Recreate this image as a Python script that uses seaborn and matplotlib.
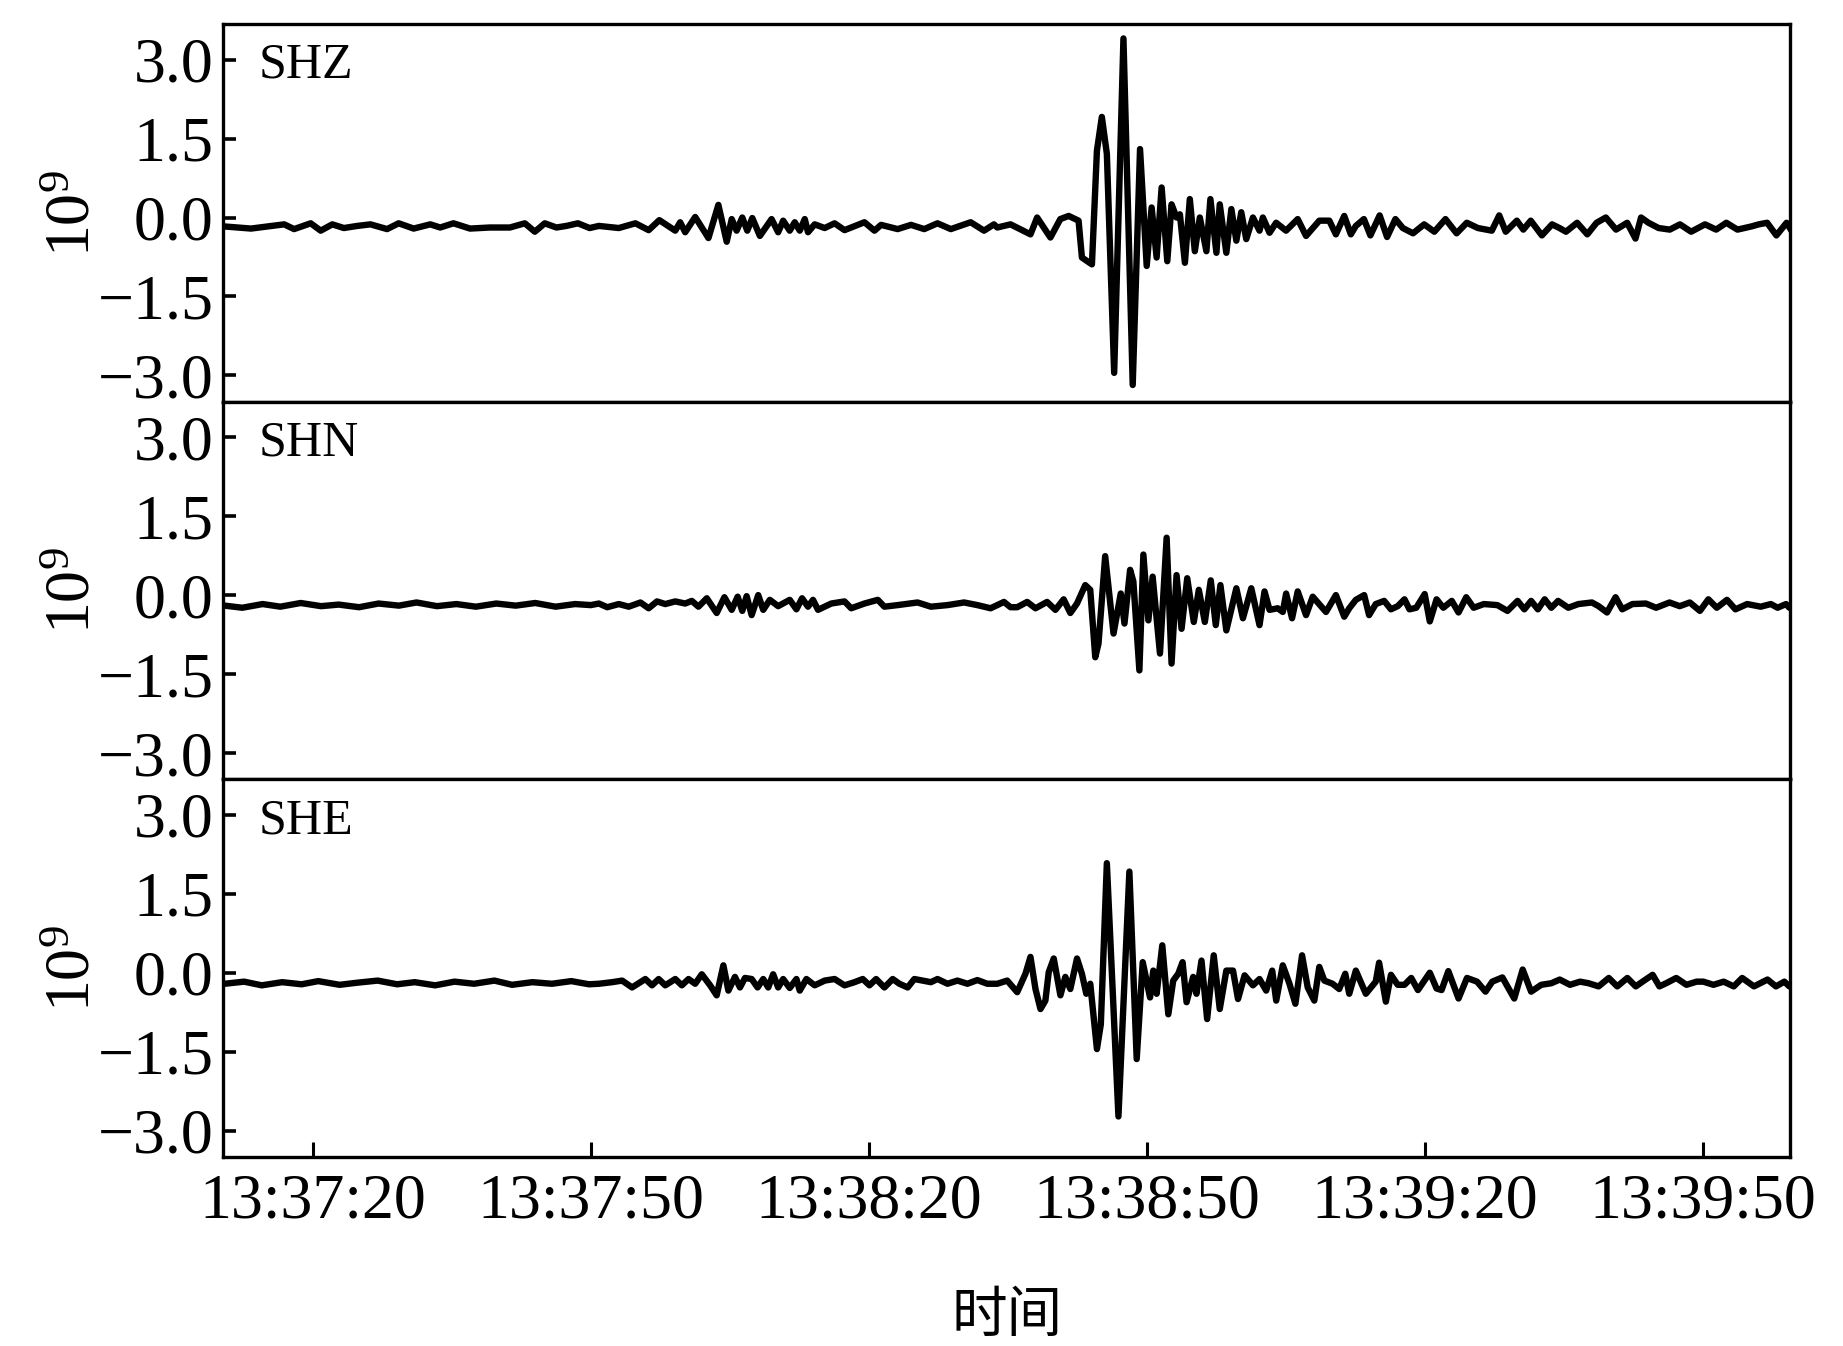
import pandas as pd
import numpy as np
import matplotlib
matplotlib.use("Agg")
import matplotlib.pyplot as plt
import matplotlib.dates as mdates
import seaborn as sns

# seconds after 13:37:00 and amplitude (x 1e9)
shz_time = [10.47, 11.9, 13.34, 15.13, 16.92, 17.99, 19.78, 20.86, 22.11, 23.36, 24.8, 26.23, 28.02, 29.27,
            30.89, 32.68, 33.75, 35.18, 36.97, 39.12, 41.27, 42.88, 43.96, 45.03, 46.29, 47.36, 48.61, 49.87,
            50.87, 53.02, 54.81, 56.24, 57.39, 59.11, 59.64, 60.18, 61.26, 62.69, 63.76, 64.66, 65.2, 65.73,
            66.34, 66.88, 67.42, 68.24, 69.5, 70.21, 70.75, 71.46, 72.0, 72.54, 73.08, 73.43, 74.15, 75.23,
            76.3, 77.37, 79.52, 80.6, 81.31, 83.1, 84.54, 85.97, 87.4, 88.84, 90.98, 92.42, 93.49,
            93.85, 95.28, 97.43, 98.15, 99.58, 100.65, 101.55, 102.62, 102.98, 104.06, 104.6, 105.13, 105.67,
            106.46, 107.46, 108.46, 109.25, 109.97, 110.5, 111.04, 111.58, 112.19, 112.65, 113.19, 113.55,
            114.09, 114.62, 115.16, 115.7, 116.41, 116.84, 117.49, 117.85, 118.56, 119.1, 119.64, 120.17,
            120.71, 121.43, 122.14, 122.5, 123.22, 123.93, 125.0, 126.26, 127.16, 128.59, 129.67, 130.38,
            131.28, 131.99, 132.53,
            133.4, 134.1, 135.1, 135.9, 136.8, 137.6, 138.7, 139.9, 141.0, 142.2, 143.4, 144.5, 145.7, 147.2,
            148.0, 148.7, 149.9, 150.6, 151.4, 152.6, 153.7, 154.5, 155.2, 156.4, 157.5, 158.5, 159.5, 160.6,
            161.8, 162.7, 163.3, 164.1, 165.2, 166.4, 167.5, 168.7, 170.2, 171.4, 172.5, 173.7, 175.2, 176.0,
            176.9, 177.9, 179.0, 179.6]
shz_amp = [-0.17, -0.19, -0.21, -0.17, -0.13, -0.22, -0.11, -0.25, -0.13, -0.20, -0.16, -0.13, -0.22, -0.11,
           -0.21, -0.13, -0.19, -0.11, -0.21, -0.19, -0.19, -0.11, -0.27, -0.11, -0.19, -0.16, -0.11, -0.20,
           -0.16, -0.20, -0.11, -0.24, -0.05, -0.25, -0.09, -0.28, 0.01, -0.39, 0.24, -0.46, -0.03, -0.25,
           0.0, -0.25, -0.01, -0.35, -0.03, -0.28, -0.06, -0.25, -0.09, -0.25, -0.03, -0.28, -0.13, -0.20,
           -0.11, -0.24, -0.09, -0.25, -0.14, -0.22, -0.14, -0.22, -0.11, -0.22, -0.09, -0.25, -0.13,
           -0.19, -0.13, -0.32, 0.00, -0.38, -0.03, 0.03, -0.06, -0.76, -0.89, 1.27, 1.91, 1.21,
           -2.95, 3.40, -3.18, 1.30, -0.92, 0.19, -0.76, 0.57, -0.83, 0.25, 0.00, 0.06,
           -0.86, 0.35, -0.64, 0.0, -0.64, 0.35, -0.67, 0.25, -0.67, 0.16, -0.44, 0.10,
           -0.41, 0.0, -0.25, 0.0, -0.29, -0.10, -0.25, -0.03, -0.35, -0.06, -0.06, -0.32,
           0.03, -0.32, -0.16,
           -0.03, -0.34, 0.04, -0.37, -0.03, -0.20, -0.30, -0.13, -0.27, -0.03, -0.30, -0.10, -0.20, -0.25,
           0.04, -0.27, -0.06, -0.23, -0.06, -0.34, -0.13, -0.20, -0.27, -0.10, -0.32, -0.10, 0.0, -0.23,
           -0.10, -0.40, 0.0, -0.10, -0.20, -0.23, -0.13, -0.27, -0.13, -0.23, -0.10, -0.23, -0.17, -0.13,
           -0.10, -0.34, -0.10, -0.27]

shn_time = [10.5, 12.4, 14.6, 16.5, 18.7, 20.9, 22.8, 25.0, 27.1, 29.3, 31.2, 33.4, 35.5, 37.6, 39.8, 41.9,
            44.0, 46.2, 48.3, 50.0,
            50.87, 51.77, 53.02, 54.09, 55.35, 56.24, 57.14, 58.03, 59.11, 60.18, 60.9, 61.61, 62.51, 63.58,
            64.41, 65.2, 65.84, 66.34, 66.81, 67.35, 68.06, 68.6, 69.31, 70.21, 71.46, 72.18, 72.79, 73.43,
            73.97, 74.51, 75.94, 77.37, 78.09, 79.52, 80.96, 81.67, 83.1, 85.25, 86.69, 88.48, 90.27, 91.7,
            93.13,
            93.85, 94.57, 95.28, 96.0, 97.07, 97.97, 99.22, 100.12, 101.01, 101.73, 102.45, 103.34, 103.88,
            104.42, 104.77, 105.49, 106.39, 107.17, 107.57, 108.18, 108.53, 109.18, 109.61, 110.15, 110.61,
            111.4, 112.12, 112.65, 113.19, 113.73, 114.34, 115.05, 115.59, 116.24, 116.88, 117.42, 117.92,
            118.56, 119.64, 120.35, 121.25, 122.14, 122.68, 123.22, 124.11, 124.65, 125.01, 125.65, 126.26,
            127.16, 127.88, 129.31, 130.38, 131.28, 131.82, 132.53, 133.43, 133.96,
            134.68, 135.59, 136.32, 137.05, 137.78, 138.32, 139.05, 139.96, 140.51, 141.24, 141.97, 142.88,
            143.61, 144.44, 145.24, 146.34, 147.8, 148.89, 149.98, 150.71, 151.44, 152.17, 152.9, 153.62,
            154.35, 155.45, 156.54, 158.0, 158.72, 159.63, 160.55, 161.27, 162.37, 163.82, 164.92, 166.37,
            167.47, 168.56, 169.65, 170.56, 171.47, 172.57, 173.48, 174.75, 176.21, 177.3, 178.03, 178.94,
            179.3]
shn_amp = [-0.20, -0.24, -0.17, -0.22, -0.15, -0.21, -0.18, -0.23, -0.16, -0.20, -0.14, -0.21, -0.17, -0.22,
           -0.16, -0.20, -0.15, -0.22, -0.17, -0.19,
           -0.16, -0.23, -0.17, -0.22, -0.14, -0.25, -0.12, -0.17, -0.12, -0.16, -0.11, -0.22, -0.06, -0.34,
           -0.04, -0.28, -0.03, -0.30, -0.02, -0.38, 0.0, -0.28, -0.09, -0.21, -0.09, -0.27, -0.06, -0.22,
           -0.09, -0.28, -0.16, -0.12, -0.25, -0.16, -0.09, -0.22, -0.19, -0.14, -0.22, -0.19, -0.14, -0.19,
           -0.25,
           -0.19, -0.13, -0.23, -0.23, -0.13, -0.25, -0.13, -0.28, -0.08, -0.34, -0.16, 0.19, 0.10,
           -1.18, -0.92, 0.74, -0.73, 0.03, -0.54, 0.48, 0.26, -1.43, 0.77, -0.48, 0.35,
           -1.11, 1.09, -1.30, 0.38, -0.64, 0.32, -0.51, 0.10, -0.51, 0.28, -0.57, 0.19,
           -0.67, 0.13, -0.44, 0.13, -0.57, 0.07, -0.28, -0.25, -0.32, 0.03, -0.44, 0.07,
           -0.38, -0.03, -0.32, 0.0, -0.41, -0.25, -0.09, 0.0, -0.38,
           -0.17, -0.11, -0.27, -0.21, -0.08, -0.27, -0.24, 0.02, -0.50, -0.08, -0.24, -0.11,
           -0.33, -0.04, -0.24, -0.17, -0.19, -0.30, -0.11, -0.27, -0.11, -0.27, -0.08, -0.24,
           -0.11, -0.24, -0.17, -0.14, -0.21, -0.33, -0.04, -0.27, -0.17, -0.16, -0.24, -0.14,
           -0.21, -0.14, -0.30, -0.08, -0.24, -0.09, -0.27, -0.17, -0.22, -0.17, -0.24, -0.17,
           -0.24]

she_time = [10.5, 12.6, 14.5, 16.7, 18.8, 20.6, 22.9, 24.8, 27.0, 29.1, 31.0, 33.2, 35.3, 37.4, 39.6, 41.5,
            43.7, 45.8, 47.9, 49.8,
            50.87, 52.3, 53.38, 54.45, 55.88, 56.6, 57.32, 58.03, 59.11, 59.82, 60.54, 61.26, 61.97, 62.87,
            63.58, 64.3, 64.84, 65.2, 65.55, 66.09, 66.63, 67.35, 67.99, 68.6, 69.14, 69.67, 70.21, 70.75,
            71.46, 72.18, 72.54, 73.26, 74.15, 75.23, 76.3, 77.37, 78.45, 79.34, 80.06, 80.78, 81.67, 82.57,
            83.29, 84.18, 84.9, 86.69, 87.4, 88.48, 89.55, 90.63, 91.7, 92.77,
            93.85, 94.92, 96.0, 96.89, 97.43, 97.97, 98.51, 99.04, 99.4, 99.94, 100.66, 101.19, 101.73,
            102.45, 102.98, 103.45, 103.88, 104.6, 105.02, 105.67, 106.92, 108.1, 108.89, 109.54, 110.33,
            110.68, 111.04, 111.65, 112.3, 112.83, 113.37, 113.84, 114.27, 114.98, 115.34, 115.88, 116.49,
            117.2, 117.85, 118.56, 119.28, 119.82, 120.53, 121.43, 122.14, 122.86, 123.51, 123.94, 124.65,
            125.37, 126.01, 126.73, 127.34, 128.05, 128.59, 129.13, 130.02, 130.74, 131.39, 131.82, 132.53,
            133.61,
            134.68, 135.04, 135.77, 136.32, 137.05, 137.78, 138.51, 139.23, 140.51, 141.24, 141.78, 142.51,
            143.61, 144.52, 145.61, 146.52, 147.25, 148.34, 149.62, 150.53, 151.44, 152.53, 153.62, 154.53,
            155.63, 156.72, 157.63, 158.72, 159.82, 160.73, 161.82, 162.73, 163.46, 164.55, 165.28, 166.01,
            167.1, 168.2, 169.29, 170.02, 171.11, 172.21, 173.3, 174.21, 175.48, 176.94, 177.85, 178.76,
            179.3]
she_amp = [-0.21, -0.17, -0.24, -0.18, -0.22, -0.16, -0.23, -0.19, -0.15, -0.22, -0.18, -0.24, -0.17, -0.21,
           -0.15, -0.23, -0.18, -0.21, -0.16, -0.22,
           -0.21, -0.18, -0.15, -0.28, -0.12, -0.24, -0.12, -0.24, -0.12, -0.24, -0.12, -0.21, -0.03, -0.24,
           -0.43, 0.14, -0.34, -0.21, -0.08, -0.28, -0.10, -0.12, -0.28, -0.12, -0.28, -0.03, -0.28, -0.12,
           -0.29, -0.12, -0.34, -0.12, -0.24, -0.15, -0.12, -0.24, -0.18, -0.12, -0.24, -0.12, -0.28, -0.12,
           -0.21, -0.28, -0.12, -0.18, -0.12, -0.21, -0.15, -0.21, -0.14, -0.21,
           -0.21, -0.15, -0.37, -0.02, 0.30, -0.31, -0.69, -0.53, 0.01, 0.27, -0.43, -0.08, -0.31,
           0.27, -0.02, -0.40, -0.21, -1.45, -0.98, 2.08, -2.73, 1.92, -1.64, 0.20, -0.47,
           0.04, -0.40, 0.52, -0.79, -0.15, -0.02, 0.20, -0.56, -0.08, -0.40, 0.23, -0.88,
           0.33, -0.69, 0.04, 0.04, -0.50, -0.05, -0.24, -0.12, -0.34, 0.04, -0.53, 0.14,
           -0.21, -0.59, 0.33, -0.28, -0.53, 0.11, -0.15, -0.21, -0.31, -0.02, -0.40, 0.04,
           -0.40,
           -0.17, 0.19, -0.55, -0.04, -0.23, -0.23, -0.10, -0.33, 0.00, -0.30, -0.33, 0.03,
           -0.49, -0.10, -0.17, -0.36, -0.17, -0.09, -0.49, 0.06, -0.36, -0.23, -0.20, -0.13,
           -0.23, -0.17, -0.20, -0.26, -0.10, -0.26, -0.10, -0.26, -0.17, -0.04, -0.26, -0.20,
           -0.10, -0.23, -0.17, -0.17, -0.23, -0.17, -0.26, -0.10, -0.26, -0.13, -0.26, -0.17,
           -0.26]

channels = ["SHZ", "SHN", "SHE"]
y_ticks = [-3.0, -1.5, 0.0, 1.5, 3.0]
start = pd.Timestamp("2023-01-01 13:37:00")

frames = []
for name, tt, aa in [("SHZ", shz_time, shz_amp), ("SHN", shn_time, shn_amp), ("SHE", she_time, she_amp)]:
    frames.append(pd.DataFrame({"time": start + pd.to_timedelta(tt, unit="s"),
                                "amp": aa, "channel": name}))
df = pd.concat(frames, ignore_index=True)

sns.set_theme(style="ticks")
plt.rcParams["font.family"] = ["Liberation Serif", "Noto Sans CJK SC"]
plt.rcParams["mathtext.fontset"] = "custom"
plt.rcParams["mathtext.rm"] = "Liberation Serif"
plt.rcParams["axes.unicode_minus"] = True
for key in ["text.color", "axes.labelcolor", "xtick.color", "ytick.color", "axes.edgecolor"]:
    plt.rcParams[key] = "black"

fig, axes = plt.subplots(3, 1, sharex=True, figsize=(18.43, 13.46), dpi=100)
fig.subplots_adjust(left=0.1212, right=0.9713, top=0.982, bottom=0.1404, hspace=0)

for i, (ax, name) in enumerate(zip(axes, channels)):
    sub = df[df["channel"] == name]
    sns.lineplot(data=sub, x="time", y="amp", ax=ax, color="black", linewidth=4.6,
                 estimator=None, sort=False)
    ax.set_ylim(-3.5, 3.67)
    ax.set_yticks(y_ticks)
    ax.set_yticklabels([f"{v:.1f}".replace("-", "\u2212") for v in y_ticks])
    ax.tick_params(axis="y", direction="in", length=9, width=2.6, labelsize=46, pad=7)
    ax.tick_params(axis="x", direction="in", length=11, width=2.2, labelsize=46, pad=12)
    for sp in ax.spines.values():
        sp.set_linewidth(2.4)
        sp.set_color("black")
    ax.set_ylabel(r"$\mathregular{10^{9}}$", fontsize=46)
    ax.yaxis.set_label_coords(-0.0765, 0.5)
    ax.text(0.0224, 0.858, name, transform=ax.transAxes, fontsize=36, va="baseline")
    if i < 2:
        ax.tick_params(axis="x", bottom=False)
        ax.set_xlabel("")

ax = axes[-1]
ax.set_xlim(start + pd.Timedelta(seconds=10.36), start + pd.Timedelta(seconds=179.38))
ax.xaxis.set_major_locator(mdates.SecondLocator(bysecond=[20, 50]))
ax.xaxis.set_major_formatter(mdates.DateFormatter("%H:%M:%S"))
ax.set_xlabel("时间", fontsize=40, family="Noto Sans CJK SC", labelpad=40)

fig.savefig("out.png", dpi=100)
